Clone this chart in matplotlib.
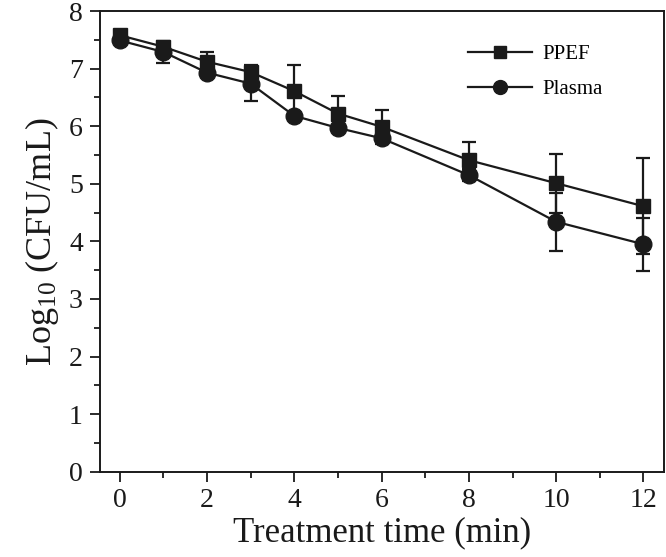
import matplotlib
matplotlib.use("Agg")
import matplotlib.pyplot as plt
from matplotlib.ticker import MultipleLocator
from matplotlib.lines import Line2D

plt.rcParams['font.family'] = ['Liberation Serif', 'DejaVu Serif']
plt.rcParams['mathtext.fontset'] = 'custom'
plt.rcParams['mathtext.rm'] = 'Liberation Serif'
plt.rcParams['mathtext.it'] = 'Liberation Serif:italic'

time_min = [0, 1, 2, 3, 4, 5, 6, 8, 10, 12]
ppef = [7.58, 7.38, 7.12, 6.94, 6.61, 6.22, 5.99, 5.41, 5.01, 4.61]
ppef_err = [0.05, 0.05, 0.16, 0.12, 0.45, 0.30, 0.30, 0.32, 0.51, 0.83]
plasma = [7.49, 7.29, 6.93, 6.74, 6.18, 5.97, 5.79, 5.15, 4.34, 3.95]
plasma_err = [0.05, 0.19, 0.08, 0.30, 0.05, 0.05, 0.08, 0.10, 0.50, 0.46]

ink = '#1a1a1a'
fig = plt.figure(figsize=(6.66, 5.57), dpi=100)
ax = fig.add_axes([0.1494, 0.1531, 0.8476, 0.8271])

ax.errorbar(time_min, ppef, yerr=ppef_err, color=ink, marker='s', markersize=10,
            linewidth=1.6, elinewidth=1.6, capsize=5, capthick=1.6, zorder=3)
ax.errorbar(time_min, plasma, yerr=plasma_err, color=ink, marker='o', markersize=12,
            linewidth=1.6, elinewidth=1.6, capsize=5, capthick=1.6, zorder=3)

ax.set_xlim(-0.46, 12.47)
ax.set_ylim(0, 8)
ax.xaxis.set_major_locator(MultipleLocator(2))
ax.xaxis.set_minor_locator(MultipleLocator(1))
ax.yaxis.set_major_locator(MultipleLocator(1))
ax.yaxis.set_minor_locator(MultipleLocator(0.5))
ax.tick_params(which='major', direction='out', length=7, width=1.3, labelsize=20, colors=ink, pad=5)
ax.tick_params(which='minor', direction='out', length=4, width=1.3, colors=ink)
for s in ax.spines.values():
    s.set_linewidth(1.4)
    s.set_color(ink)

ax.set_xlabel('Treatment time (min)', fontsize=25, color=ink, labelpad=2)
ax.set_ylabel(r'Log$_{10}$ (CFU/mL)', fontsize=26, color=ink, labelpad=6)

handles = [Line2D([], [], color=ink, marker='s', markersize=8, linewidth=1.6),
           Line2D([], [], color=ink, marker='o', markersize=10, linewidth=1.6)]
ax.legend(handles, ['PPEF', 'Plasma'], loc='upper right', bbox_to_anchor=(0.925, 0.968),
          frameon=False, fontsize=15, handlelength=3.1, labelspacing=0.75, handletextpad=0.5)

fig.savefig('out.png', dpi=100)
